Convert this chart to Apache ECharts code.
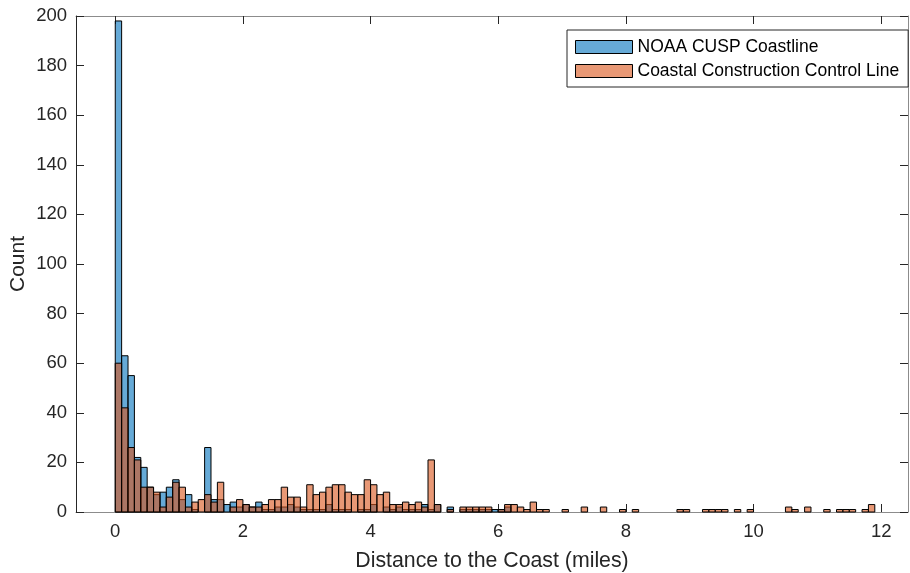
<!DOCTYPE html>
<html>
<head>
<meta charset="utf-8">
<script src="https://cdn.jsdelivr.net/npm/echarts@6/dist/echarts.min.js"></script>
<style>
  html, body { margin: 0; padding: 0; background: #fff; }
  #chart { width: 910px; height: 573px; }
</style>
</head>
<body>
<div id="chart"></div>
<script>
// Histogram bins: 0.1-mile bins starting at 0 (bin i spans [i*0.1, (i+1)*0.1))
const binStart = 0;
const binWidth = 0.1;

// Counts per bin, NOAA CUSP coastline distances
const noaaCounts = [
  198, 63, 55, 22, 18, 10, 7, 8, 10, 13,
  5, 7, 1, 0, 26, 5, 5, 3, 4, 2,
  3, 2, 4, 1, 1, 2, 2, 3, 2, 1,
  1, 1, 1, 3, 1, 1, 1, 0, 1, 1,
  3, 0, 2, 1, 2, 1, 1, 1, 3, 1,
  3, 0, 2, 0, 1, 1, 1, 1, 1, 1,
  1, 2, 0
];

// Counts per bin, Coastal Construction Control Line distances
const cccLineCounts = [
  60, 42, 26, 21, 10, 10, 8, 2, 6, 12,
  10, 2, 4, 5, 7, 4, 12, 0, 2, 5,
  3, 2, 2, 3, 5, 5, 10, 6, 6, 2,
  11, 7, 8, 10, 11, 11, 8, 7, 7, 13,
  11, 7, 8, 3, 3, 4, 3, 4, 2, 21,
  3, 0, 1, 0, 2, 2, 2, 2, 2, 0,
  1, 3, 3, 2, 1, 4, 1, 1, 0, 0,
  1, 0, 0, 2, 0, 0, 2, 0, 0, 1,
  0, 1, 0, 0, 0, 0, 0, 0, 1, 1,
  0, 0, 1, 1, 1, 1, 0, 1, 0, 1,
  0, 0, 0, 0, 0, 2, 1, 0, 2, 0,
  0, 1, 0, 1, 1, 1, 0, 1, 3, 0
];

const xTickValues = [0, 2, 4, 6, 8, 10, 12];
const seriesNames = ['NOAA CUSP Coastline', 'Coastal Construction Control Line'];

const FONT = 'Liberation Sans, Arial, Helvetica, sans-serif';
const TEXT_COLOR = '#262626';
const BOX_COLOR = '#8c8c8c';
const BLUE_FILL = 'rgba(0,114,189,0.6)';
const ORANGE_FILL = 'rgba(217,83,25,0.6)';

function toBins(counts) {
  return counts.map((c, i) => {
    const lo = binStart + i * binWidth;
    return [lo, lo + binWidth, c];
  });
}

function binRenderer(fill) {
  return function (params, api) {
    const count = api.value(2);
    if (!count) return null;
    const topLeft = api.coord([api.value(0), count]);
    const bottomRight = api.coord([api.value(1), 0]);
    return {
      type: 'rect',
      shape: {
        x: topLeft[0],
        y: topLeft[1],
        width: bottomRight[0] - topLeft[0],
        height: bottomRight[1] - topLeft[1]
      },
      style: { fill: fill, stroke: '#000', lineWidth: 1 }
    };
  };
}

const xRange = { min: -0.615, max: 12.42 };

const chart = echarts.init(document.getElementById('chart'), null, { renderer: 'canvas' });
chart.setOption({
  animation: false,
  backgroundColor: '#fff',
  textStyle: { fontFamily: FONT },
  grid: { left: 76, right: 2, top: 16, bottom: 61, containLabel: false, outerBoundsMode: 'none' },
  legend: {
    left: 567,
    top: 30,
    orient: 'vertical',
    icon: 'rect',
    itemWidth: 57,
    itemHeight: 13,
    itemGap: 6,
    padding: [8, 9, 7, 8],
    borderColor: '#262626',
    borderWidth: 1,
    backgroundColor: '#fff',
    textStyle: { fontFamily: FONT, fontSize: 17.5, lineHeight: 17, color: '#000' },
    data: [
      { name: seriesNames[0], itemStyle: { color: BLUE_FILL, borderColor: '#000', borderWidth: 1 } },
      { name: seriesNames[1], itemStyle: { color: ORANGE_FILL, borderColor: '#000', borderWidth: 1 } }
    ]
  },
  xAxis: [
    {
      type: 'value',
      position: 'bottom',
      min: xRange.min,
      max: xRange.max,
      name: 'Distance to the Coast (miles)',
      nameLocation: 'middle',
      nameGap: 39,
      nameMoveOverlap: false,
      nameTextStyle: { fontFamily: FONT, fontSize: 21.3, color: TEXT_COLOR },
      axisLine: { show: true, onZero: false, lineStyle: { color: BOX_COLOR, width: 1 } },
      axisTick: { show: true, inside: true, length: 8, customValues: xTickValues, lineStyle: { color: TEXT_COLOR } },
      axisLabel: { show: true, customValues: xTickValues, margin: 10, fontFamily: FONT, fontSize: 18.5, color: TEXT_COLOR },
      splitLine: { show: false }
    },
    {
      type: 'value',
      position: 'top',
      min: xRange.min,
      max: xRange.max,
      axisLine: { show: true, onZero: false, lineStyle: { color: BOX_COLOR, width: 1 } },
      axisTick: { show: true, inside: true, length: 8, customValues: xTickValues, lineStyle: { color: TEXT_COLOR } },
      axisLabel: { show: false },
      splitLine: { show: false }
    }
  ],
  yAxis: [
    {
      type: 'value',
      position: 'left',
      min: 0,
      max: 200,
      interval: 20,
      name: 'Count',
      nameLocation: 'middle',
      nameGap: 47,
      nameMoveOverlap: false,
      nameRotate: 90,
      nameTextStyle: { fontFamily: FONT, fontSize: 21, color: TEXT_COLOR },
      axisLine: { show: true, onZero: false, lineStyle: { color: TEXT_COLOR, width: 1 } },
      axisTick: { show: true, inside: true, length: 8, lineStyle: { color: TEXT_COLOR } },
      axisLabel: { show: true, margin: 9, fontFamily: FONT, fontSize: 18.5, color: TEXT_COLOR },
      splitLine: { show: false }
    },
    {
      type: 'value',
      position: 'right',
      min: 0,
      max: 200,
      interval: 20,
      axisLine: { show: true, onZero: false, lineStyle: { color: BOX_COLOR, width: 1 } },
      axisTick: { show: true, inside: true, length: 8, lineStyle: { color: TEXT_COLOR } },
      axisLabel: { show: false },
      splitLine: { show: false }
    }
  ],
  series: [
    {
      name: seriesNames[0],
      type: 'custom',
      xAxisIndex: 0,
      yAxisIndex: 0,
      renderItem: binRenderer(BLUE_FILL),
      encode: { x: [0, 1], y: 2 },
      itemStyle: { color: BLUE_FILL, borderColor: '#000', borderWidth: 1 },
      data: toBins(noaaCounts),
      z: 2
    },
    {
      name: seriesNames[1],
      type: 'custom',
      xAxisIndex: 0,
      yAxisIndex: 0,
      renderItem: binRenderer(ORANGE_FILL),
      encode: { x: [0, 1], y: 2 },
      itemStyle: { color: ORANGE_FILL, borderColor: '#000', borderWidth: 1 },
      data: toBins(cccLineCounts),
      z: 3
    }
  ]
});
</script>
</body>
</html>
